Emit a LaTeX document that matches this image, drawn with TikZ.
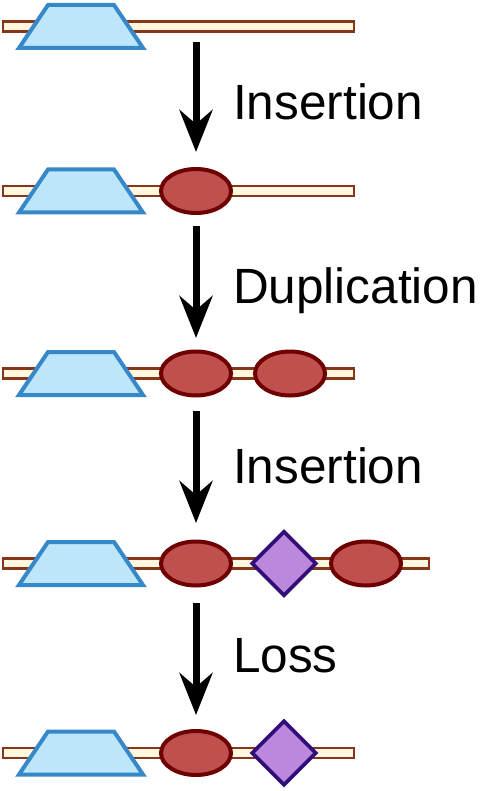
\documentclass[tikz,border=0pt]{standalone}
\usepackage{fontspec}
\setmainfont{Liberation Sans}
\usetikzlibrary{arrows.meta,shapes.geometric}
\definecolor{barfill}{RGB}{255,248,222}
\definecolor{barline}{RGB}{135,55,25}
\definecolor{trapfill}{RGB}{190,230,250}
\definecolor{trapline}{RGB}{55,136,200}
\definecolor{genefill}{RGB}{192,80,78}
\definecolor{geneline}{RGB}{110,0,0}
\definecolor{tefill}{RGB}{188,136,222}
\definecolor{teline}{RGB}{50,14,120}
\tikzset{
  bar/.style={draw=barline, fill=barfill, line width=2.2pt},
  prom/.pic={\draw[draw=trapline, fill=trapfill, line width=4pt, line join=miter]
     (-62,21.5) -- (62,21.5) -- (33,-21.5) -- (-33,-21.5) -- cycle;},
  gene/.style={ellipse, draw=geneline, fill=genefill, line width=4pt,
     minimum width=70pt, minimum height=44pt, inner sep=0pt},
  te/.style={diamond, draw=teline, fill=tefill, line width=3.6pt,
     minimum width=65pt, minimum height=65pt, inner sep=0pt},
  evo/.style={-{Stealth[length=42pt,width=33pt,inset=14pt]}, line width=7pt},
  lbl/.style={anchor=base west, inner sep=0pt, font=\fontsize{49.5}{58}\selectfont}
}
\begin{document}
\begin{tikzpicture}[x=1pt,y=-1pt]
\useasboundingbox (0,0) rectangle (481,791);
% row 1
\draw[bar] (3,21.5) rectangle (354,31.5);
\pic at (81,26.5) {prom};
% row 2
\draw[bar] (3,186) rectangle (354,196);
\pic at (81,191) {prom};
\node[gene] (g21) at (196,191) {};
% row 3
\draw[bar] (3,368.5) rectangle (354,378.5);
\pic at (81,373.5) {prom};
\node[gene] (g31) at (196,373.5) {};
\node[gene] (g32) at (290,373.5) {};
% row 4
\draw[bar] (3,558.5) rectangle (429,568.5);
\pic at (81,563.5) {prom};
\node[gene] (g41) at (196,563.5) {};
\node[te] (t41) at (284,563.5) {};
\node[gene] (g42) at (366,563.5) {};
% row 5
\draw[bar] (3,748) rectangle (354,758);
\pic at (81,753) {prom};
\node[gene] (g51) at (196,753) {};
\node[te] (t51) at (284,753) {};
% arrows
\coordinate (a1s) at (196,42);  \coordinate (a1e) at (196,152);
\coordinate (a2s) at (196,226); \coordinate (a2e) at (196,338);
\coordinate (a3s) at (196,411); \coordinate (a3e) at (196,523);
\coordinate (a4s) at (196,603); \coordinate (a4e) at (196,715);
\draw[evo] (a1s) -- (a1e);
\draw[evo] (a2s) -- (a2e);
\draw[evo] (a3s) -- (a3e);
\draw[evo] (a4s) -- (a4e);
% labels
\node[lbl] (l1) at (233,120) {Insertion};
\node[lbl] (l2) at (233,303) {Duplication};
\node[lbl] (l3) at (233,483) {Insertion};
\node[lbl] (l4) at (233,672) {Loss};
\end{tikzpicture}
\end{document}
